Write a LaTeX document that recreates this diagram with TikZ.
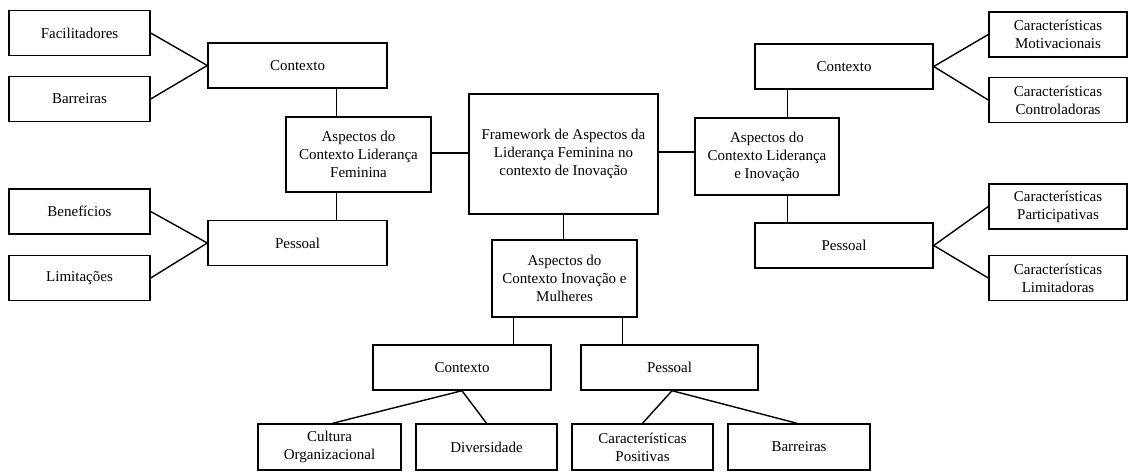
\documentclass[tikz,border=0pt]{standalone}
\usepackage{fontspec}
\setmainfont{Liberation Serif}
\begin{document}
\begin{tikzpicture}[x=1pt,y=-1pt,
  box/.style={draw=black, line width=1.4pt, fill=white, inner sep=0pt,
    align=center, font=\fontsize{15}{18}\selectfont},
  wbox/.style={box, minimum width=179pt, minimum height=45pt},
  sbox/.style={box, minimum width=141pt, minimum height=45pt},
  link/.style={draw=black, line width=1.4pt}]
\useasboundingbox (0,0) rectangle (1129,471);

% left branch
\node[sbox] (fac)  at (79.5,33)   {Facilitadores};
\node[sbox] (bar1) at (79.5,99)   {Barreiras};
\node[wbox] (ctxL) at (297.5,65.5) {Contexto};
\node[box, minimum width=145pt, minimum height=75pt] (aspL) at (358.5,154.5)
  {Aspectos do\\Contexto Liderança\\Feminina};
\node[sbox] (ben)  at (79.5,211.5) {Benefícios};
\node[sbox] (lim)  at (79.5,278)   {Limitações};
\node[wbox] (pesL) at (297.5,243)  {Pessoal};

% centre
\node[box, minimum width=189pt, minimum height=120pt] (fw) at (563.5,154)
  {Framework de Aspectos da\\Liderança Feminina no\\contexto de Inovação};

% right branch
\node[box, minimum width=144pt, minimum height=77pt] (aspR) at (767,156.5)
  {Aspectos do\\Contexto Liderança\\e Inovação};
\node[wbox, minimum width=178pt] (ctxR) at (844,66.5)  {Contexto};
\node[wbox, minimum width=178pt] (pesR) at (844,245.5) {Pessoal};
\node[sbox, minimum width=138pt] (mot) at (1058,34.5) {Características\\Motivacionais};
\node[sbox, minimum width=138pt] (con) at (1058,100)  {Características\\Controladoras};
\node[sbox, minimum width=138pt] (par) at (1058,206.5) {Características\\Participativas};
\node[sbox, minimum width=138pt] (lmd) at (1058,278)  {Características\\Limitadoras};

% bottom branch
\node[box, minimum width=145pt, minimum height=77pt] (asB) at (564.5,278.5)
  {Aspectos do\\Contexto Inovação e\\Mulheres};
\node[wbox, minimum width=178pt] (ctxB) at (462,367.5)   {Contexto};
\node[wbox, minimum width=177pt] (pesB) at (669.5,367.5) {Pessoal};
\node[sbox, minimum width=143pt, minimum height=46pt] (cul) at (329.5,447) {Cultura\\Organizacional};
\node[sbox, minimum height=46pt] (div)  at (486.5,447) {Diversidade};
\node[sbox, minimum height=46pt] (pos)  at (642.5,447) {Características\\Positivas};
\node[sbox, minimum width=142pt, minimum height=46pt] (bar2) at (799,447) {Barreiras};

% connectors, left
\draw[link] (fac.east) -- (ctxL.west);
\draw[link] (bar1.east) -- (ctxL.west);
\draw[link] (ben.east) -- (pesL.west);
\draw[link] (lim.east) -- (pesL.west);
\coordinate (aL) at ([xshift=51pt]aspL.north west);
\coordinate (bL) at ([xshift=51pt]aspL.south west);
\draw[link] (aL) -- (aL |- ctxL.south);
\draw[link] (bL) -- (bL |- pesL.north);
\draw[link] ([yshift=1.5pt]aspL.east) -- ([yshift=1.5pt]aspL.east -| fw.west);

% connectors, right
\draw[link] ([yshift=2pt]fw.east) -- ([yshift=2pt]fw.east -| aspR.west);
\coordinate (aR) at ([xshift=93pt]aspR.north west);
\coordinate (bR) at ([xshift=93pt]aspR.south west);
\draw[link] (aR) -- (aR |- ctxR.south);
\draw[link] (bR) -- (bR |- pesR.north);
\draw[link] (ctxR.east) -- (mot.west);
\draw[link] (ctxR.east) -- (con.west);
\draw[link] (pesR.east) -- (par.west);
\draw[link] (pesR.east) -- (lmd.west);

% connectors, bottom
\draw[link] (fw.south) -- (fw.south |- asB.north);
\coordinate (aB) at ([xshift=22pt]asB.south west);
\coordinate (bB) at ([xshift=-15pt]asB.south east);
\draw[link] (aB) -- (aB |- ctxB.north);
\draw[link] (bB) -- (bB |- pesB.north);
\draw[link] (ctxB.south) -- ([xshift=3pt]cul.north);
\draw[link] (ctxB.south) -- (div.north);
\draw[link] ([xshift=2.5pt]pesB.south) -- (pos.north);
\draw[link] ([xshift=2.5pt]pesB.south) -- ([xshift=-2pt]bar2.north);
\end{tikzpicture}
\end{document}
